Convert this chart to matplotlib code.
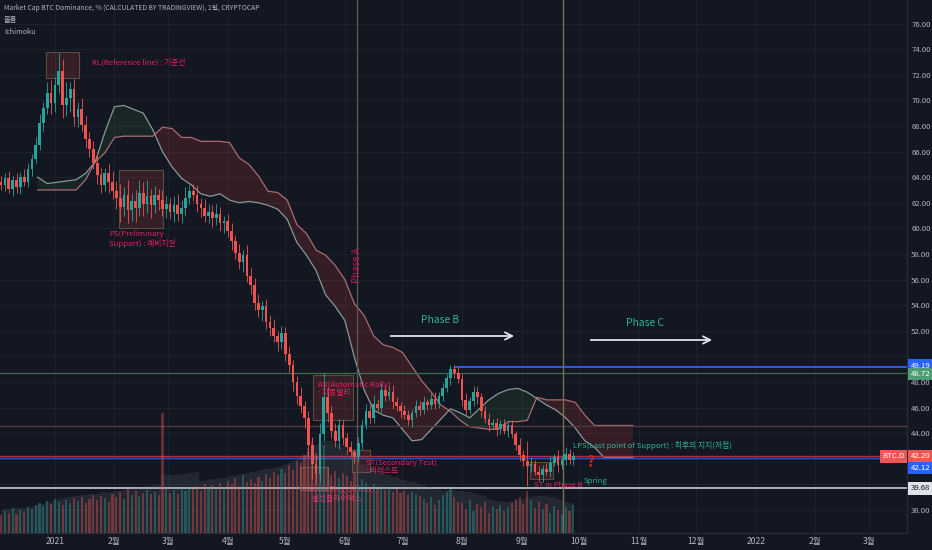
import matplotlib.pyplot as plt
import matplotlib.patches as mpatches
from matplotlib.transforms import blended_transform_factory
import numpy as np
import pandas as pd

plt.rcParams['font.family'] = ['Noto Sans CJK KR', 'DejaVu Sans']

BG = '#131722'
UP = '#26a69a'
DN = '#ef5350'
TXT = '#b2b5be'
PINK = '#e91e63'
TEAL = '#2bb597'
NOTE = 5.6

# 2-day candles, day 0 = 2021-01-01
first_day = -28
step = 2
first_open = 63.6
close = [63.4, 63.9, 63.1, 63.8, 63.2, 64.0, 63.6, 64.6, 65.4, 66.5,
         68.2, 69.4, 70.6, 69.8, 71.2, 72.3, 69.6, 70.2, 70.9, 68.7,
         69.3, 68.1, 67.0, 66.2, 65.1, 64.2, 63.4, 64.3, 63.6, 62.9,
         62.4, 61.7, 62.6, 61.4, 62.1, 61.6, 62.8, 61.9, 62.5, 61.8,
         62.6, 62.2, 61.5, 61.9, 61.3, 61.8, 61.1, 61.6, 62.4, 62.9,
         62.6, 61.9, 61.6, 61.0, 61.3, 60.8, 61.1, 60.4, 60.6, 59.8,
         59.0, 58.1, 57.4, 57.9, 56.3, 55.6, 54.2, 53.6, 53.9, 52.7,
         52.2, 51.6, 51.1, 51.8, 50.2, 49.3, 48.0, 46.9, 46.1, 45.2,
         43.1, 41.6, 40.8, 43.9, 46.8, 45.6, 44.2, 43.4, 44.6, 43.6,
         42.9, 42.5, 42.1, 43.2, 44.6, 45.7, 45.2, 46.3, 46.0, 47.4,
         46.9, 47.2, 46.4, 46.1, 45.7, 45.4, 45.0, 45.6, 46.1, 45.8,
         46.4, 46.2, 46.7, 46.3, 46.9, 47.5, 48.3, 49.0, 48.7, 48.2,
         46.6, 45.8, 46.5, 47.2, 46.8, 45.7, 45.1, 44.6, 44.8, 44.3,
         44.7, 44.2, 44.6, 43.9, 43.1, 42.3, 41.8, 41.4, 41.6, 41.0,
         40.7, 41.2, 41.0, 41.7, 42.1, 41.5, 41.9, 42.4, 41.9, 42.2]
wick_up = [0.5, 0.4, 0.6, 0.3, 0.5, 0.4, 0.6, 0.5, 0.4, 0.6,
           0.7, 0.5, 0.8, 1.0, 0.6, 1.4, 0.9, 1.2, 0.5, 0.8,
           0.6, 0.9, 0.7, 0.5, 0.6, 0.8, 0.5, 0.4, 0.7, 0.9,
           0.8, 1.1, 0.6, 1.2, 0.7, 0.9, 1.0, 0.8, 1.3, 0.6,
           0.7, 0.5, 0.8, 0.6, 0.5, 0.7, 0.9, 0.6, 0.8, 0.5,
           0.6, 0.8, 0.5, 0.7, 0.6, 0.5, 0.8, 0.6, 0.4, 0.5,
           0.6, 0.5, 0.7, 0.4, 0.8, 0.6, 0.5, 0.7, 0.4, 0.6,
           0.5, 0.7, 0.4, 0.6, 0.5, 0.6, 0.4, 0.5, 0.7, 0.4,
           0.5, 0.6, 0.7, 0.9, 1.9, 0.8, 0.5, 0.6, 0.5, 0.4,
           0.4, 0.5, 0.3, 0.5, 0.4, 0.6, 0.5, 0.7, 0.4, 0.5,
           0.4, 0.5, 0.6, 0.4, 0.3, 0.5, 0.4, 0.3, 0.5, 0.4,
           0.5, 0.3, 0.4, 0.5, 0.3, 0.4, 0.3, 0.3, 0.3, 0.5,
           0.4, 0.5, 0.3, 0.5, 0.4, 0.3, 0.4, 0.5, 0.3, 0.4,
           0.3, 0.4, 0.3, 0.4, 0.3, 0.5, 0.4, 1.6, 0.5, 0.3,
           0.4, 0.3, 0.5, 0.4, 0.3, 0.6, 0.4, 0.5, 0.4, 0.3]
wick_dn = [0.4, 0.5, 0.3, 0.6, 0.4, 0.5, 0.3, 0.4, 0.5, 0.3,
           0.4, 0.6, 0.5, 0.9, 0.7, 0.6, 1.0, 0.8, 1.1, 0.7,
           0.8, 0.5, 0.7, 0.6, 0.5, 0.7, 0.6, 0.5, 0.8, 0.6,
           0.9, 1.2, 0.7, 1.0, 0.8, 1.1, 0.6, 0.9, 0.7, 1.0,
           0.6, 0.8, 0.5, 0.7, 0.6, 0.8, 0.5, 0.7, 0.6, 0.5,
           0.5, 0.6, 0.7, 0.5, 0.6, 0.7, 0.5, 0.6, 0.8, 0.5,
           0.7, 0.5, 0.6, 0.8, 0.5, 0.7, 0.6, 0.5, 0.8, 0.6,
           0.6, 0.5, 0.7, 0.5, 0.6, 0.5, 0.7, 0.6, 0.5, 0.8,
           0.9, 1.2, 0.8, 0.6, 0.5, 0.7, 0.6, 0.5, 0.6, 0.5,
           0.5, 0.4, 0.5, 0.3, 0.4, 0.3, 0.5, 0.4, 0.3, 0.4,
           0.4, 0.3, 0.5, 0.4, 0.5, 0.3, 0.4, 0.5, 0.3, 0.4,
           0.3, 0.4, 0.3, 0.4, 0.3, 0.4, 0.3, 0.5, 0.4, 0.3,
           0.5, 0.4, 0.3, 0.4, 0.5, 0.4, 0.3, 0.4, 0.3, 0.5,
           0.4, 0.3, 0.5, 0.3, 0.4, 0.5, 0.4, 1.5, 0.4, 0.3,
           0.4, 0.5, 0.3, 0.4, 0.3, 0.5, 0.3, 0.4, 0.3, 0.4]
volume = [18, 22, 20, 25, 19, 23, 21, 26, 24, 28,
          30, 27, 32, 29, 34, 31, 28, 33, 30, 35,
          32, 36, 30, 34, 38, 33, 37, 35, 31, 39,
          36, 41, 34, 44, 38, 42, 37, 40, 43, 39,
          41, 38, 120, 44, 40, 43, 39, 45, 42, 46,
          44, 47, 42, 49, 45, 48, 43, 50, 46, 52,
          49, 55, 47, 58, 51, 54, 50, 56, 52, 59,
          55, 61, 58, 64, 60, 68, 63, 72, 70, 78,
          85, 92, 80, 74, 88, 66, 58, 62, 55, 60,
          57, 52, 60, 48, 54, 50, 45, 49, 44, 47,
          43, 46, 41, 44, 40, 42, 38, 41, 39, 37,
          34, 30, 36, 28, 33, 38, 41, 44, 36, 31,
          30, 24, 33, 22, 29, 26, 31, 20, 27, 24,
          28, 22, 26, 30, 34, 36, 29, 42, 33, 25,
          31, 24, 29, 20, 27, 23, 19, 26, 22, 28]

# Ichimoku cloud (leading spans, shifted forward)
cloud_days = list(range(-9, 302, 5))
span_a = [64.0, 63.5, 63.6, 63.7, 63.8, 64.3, 65.2, 67.5, 69.5, 69.6,
          69.3, 69.0, 67.7, 66.0, 64.8, 63.9, 63.4, 62.7, 62.5, 62.7,
          62.2, 62.0, 62.1, 62.0, 61.8, 61.5, 60.7, 58.9, 57.9, 56.7,
          54.8, 53.9, 52.8, 49.9, 47.4, 45.8, 45.4, 45.2, 44.3, 43.4,
          43.5, 44.3, 45.1, 45.9, 45.6, 45.2, 45.9, 46.6, 47.1, 47.4,
          47.5, 47.2, 46.7, 46.2, 45.8, 45.2, 44.4, 43.4, 42.9, 42.1,
          42.1, 42.1, 42.1]
span_b = [63.0, 63.0, 63.0, 63.0, 63.0, 63.8, 65.2, 65.9, 67.1, 67.2,
          67.2, 67.2, 67.2, 67.9, 67.8, 67.1, 67.1, 66.8, 66.8, 66.8,
          66.7, 65.5, 65.0, 64.1, 62.9, 62.8, 62.2, 60.3, 59.6, 58.3,
          57.9, 57.1, 56.0, 54.1, 53.2, 51.6, 50.9, 50.7, 50.3, 49.2,
          48.1, 47.2, 46.2, 45.7, 45.0, 44.5, 44.4, 44.3, 44.3, 44.9,
          44.9, 45.0, 46.8, 46.6, 46.6, 46.6, 46.4, 45.4, 44.6, 44.6,
          44.6, 44.6, 44.6]

month_days = [0, 31, 59, 90, 120, 151, 181, 212, 243, 273, 304, 334, 365, 396, 424]
month_labels = ['2021', '2월', '3월', '4월', '5월', '6월', '7월', '8월', '9월',
                '10월', '11월', '12월', '2022', '2월', '3월']
price_ticks = list(range(38, 77, 2))
hidden_ticks = [40, 42, 50]   # covered by the price tags

lvl_top = 49.19
lvl_green = 48.72
lvl_mid = 44.56
lvl_last = 42.20
lvl_blue = 42.12
lvl_low = 39.68
phase_a_day = 157.3
now_day = 264.6
top_start_day = 208

close = np.array(close)
days = first_day + step * np.arange(len(close))
opens = np.r_[first_open, close[:-1]]
highs = np.maximum(opens, close) + np.array(wick_up)
lows = np.minimum(opens, close) - np.array(wick_dn)
cols = np.where(close >= opens, UP, DN)

fig = plt.figure(figsize=(9.32, 5.5), dpi=100, facecolor=BG)
ax = fig.add_axes([0, 17 / 550, 907 / 932, 533 / 550])
ax.set_facecolor(BG)
ax.set_xlim(-28.6, 443.75)
ax.set_ylim(36.2, 77.84)

# volume pane (drawn over the price pane, like the original)
axv = ax.twinx()
axv.set_ylim(0, 533)
axv.axis('off')
vol_ma = pd.Series(volume).rolling(10, min_periods=1).mean()
axv.fill_between(days, 0, vol_ma * 1.2, step='mid', color='#787b86', alpha=0.16, lw=0)
axv.bar(days, volume, width=1.1, color=cols, alpha=0.38, lw=0)

# axes / grid
ax.set_xticks(month_days)
ax.set_xticklabels(month_labels)
ax.set_yticks(price_ticks)
ax.set_yticklabels(['' if v in hidden_ticks else f'{v:.2f}' for v in price_ticks])
ax.yaxis.tick_right()
ax.tick_params(axis='both', length=0, colors=TXT)
ax.tick_params(axis='y', pad=3, labelsize=5.6)
ax.tick_params(axis='x', pad=3, labelsize=6.2)
ax.grid(True, color='#1d212c', lw=0.8)
ax.set_axisbelow(True)
for s in ['top', 'left']:
    ax.spines[s].set_visible(False)
for s in ['right', 'bottom']:
    ax.spines[s].set_color('#2a2e39')

# cloud
ca = np.array(span_a)
cb = np.array(span_b)
ax.fill_between(cloud_days, ca, cb, where=ca >= cb, interpolate=True,
                color='#43a047', alpha=0.12, lw=0, zorder=1)
ax.fill_between(cloud_days, ca, cb, where=ca < cb, interpolate=True,
                color='#f44336', alpha=0.15, lw=0, zorder=1)
ax.plot(cloud_days, span_a, color='#9aaeae', lw=0.9, alpha=0.85, zorder=2)
ax.plot(cloud_days, span_b, color='#c27a80', lw=0.9, alpha=0.85, zorder=2)

# levels
ax.axhline(lvl_green, color='#3f6e48', lw=0.9, zorder=2)
ax.axhline(lvl_mid, color='#4d3a42', lw=1.0, zorder=2)
ax.axhline(lvl_last + 0.05, color='#b03050', lw=1.0, zorder=2)
ax.axhline(lvl_blue - 0.05, color='#2b4fc9', lw=1.0, zorder=2)
ax.axhline(lvl_low, color='#c8cbd2', lw=1.2, zorder=2)
ax.hlines(lvl_top, top_start_day, 443.75, color='#2962ff', lw=1.3, zorder=2)
ax.axvline(phase_a_day, color='#5e5a4c', lw=0.9, zorder=2)
ax.axvline(now_day, color='#78714f', lw=1.0, zorder=2)

# rectangles (annotations)
boxes = [(-4.7, 71.75, 17.2, 2.03), (33.3, 60.03, 23.0, 4.53),
         (134.4, 45.03, 20.8, 3.52), (154.7, 40.97, 9.4, 1.72),
         (127.6, 39.56, 14.6, 1.80), (247.4, 40.42, 12.0, 1.33)]
for bx, by, bw, bh in boxes:
    ax.add_patch(mpatches.Rectangle((bx, by), bw, bh, facecolor=(0.62, 0.22, 0.22, 0.25),
                                    edgecolor='#5a4d3e', lw=0.8, zorder=2.5))

# candles
ax.vlines(days, lows, highs, colors=cols, lw=0.6, zorder=3)
ax.bar(days, np.maximum(np.abs(close - opens), 0.06), bottom=np.minimum(opens, close),
       width=1.4, color=cols, lw=0, zorder=4)

# text annotations
ax.text(19.3, 73.0, 'RL(Reference line) : 기준선', color=PINK, fontsize=NOTE,
        fontweight='medium', va='center', zorder=5)
ax.text(28.1, 59.85, 'PS(Preliminary\nSupport) : 예비지원', color=PINK, fontsize=NOTE,
        fontweight='medium', va='top', linespacing=1.1, zorder=5)
ax.text(137.0, 48.1, 'AR(Automatic Rally)\n: 자동랠리', color=PINK, fontsize=NOTE,
        fontweight='medium', va='top', linespacing=1.1, zorder=5)
ax.text(162.0, 42.0, 'ST(Secondary Test)\n: 리테스트', color=PINK, fontsize=NOTE,
        fontweight='medium', va='top', linespacing=1.1, zorder=5)
ax.text(131.8, 39.85, 'SC(Selling Climax)\n: 셀링클라이맥스', color=PINK, fontsize=NOTE,
        fontweight='medium', va='top', linespacing=1.1, zorder=0.5)
ax.text(249.5, 39.95, 'ST in Phase B', color=PINK, fontsize=NOTE, fontweight='medium',
        va='center', zorder=5)
ax.text(275.5, 40.3, 'Spring', color=TEAL, fontsize=NOTE, fontweight='medium',
        va='center', zorder=5)
ax.text(277.0, 41.75, '?', color='#c62828', fontsize=11, fontweight='bold', va='center', zorder=5)
ax.text(269.8, 43.0, 'LPS(Last point of Support) : 최후의 지지(저점)', color=TEAL,
        fontsize=NOTE, fontweight='medium', va='center', zorder=5)
ax.text(phase_a_day, 57.1, 'Phase A', color='#c2185b', fontsize=7, rotation=90,
        ha='center', va='center', zorder=5)
ax.text(200.5, 52.84, 'Phase B', color=TEAL, fontsize=7.4, ha='center', va='center', zorder=5)
ax.text(307.3, 52.6, 'Phase C', color=TEAL, fontsize=7.4, ha='center', va='center', zorder=5)
ax.annotate('', xy=(240.6, 51.59), xytext=(173.4, 51.59),
            arrowprops=dict(arrowstyle='->', color='#e0e3eb', lw=1.3, mutation_scale=13), zorder=5)
ax.annotate('', xy=(343.75, 51.28), xytext=(277.6, 51.28),
            arrowprops=dict(arrowstyle='->', color='#e0e3eb', lw=1.3, mutation_scale=13), zorder=5)

# price labels on the axis
tr = blended_transform_factory(ax.transAxes, ax.transData)
def price_tag(y, label, fc, tc='white', x=1.004, ha='left'):
    ax.text(x, y, label, transform=tr, ha=ha, va='center', fontsize=5.6, color=tc,
            bbox=dict(boxstyle='square,pad=0.3', fc=fc, ec='none'), clip_on=False, zorder=10)

price_tag(lvl_top + 0.08, f'{lvl_top:.2f}', '#2962ff')
price_tag(lvl_green - 0.1, f'{lvl_green:.2f}', '#4d9c73')
price_tag(lvl_last, f'{lvl_last:.2f}', '#f05656')
price_tag(lvl_blue - 0.85, f'{lvl_blue:.2f}', '#2962ff')
price_tag(lvl_low, f'{lvl_low:.2f}', '#e0e3eb', tc='#131722')
price_tag(lvl_last, 'BTC.D', '#f05656', x=0.997, ha='right')

# header
fig.text(4 / 932, 1 - 8 / 550, 'Market Cap BTC Dominance, % (CALCULATED BY TRADINGVIEW), 1일, CRYPTOCAP',
         color=TXT, fontsize=4.9, va='center')
fig.text(4 / 932, 1 - 20 / 550, '볼륨', color=TXT, fontsize=5.2, va='center')
fig.text(4 / 932, 1 - 32 / 550, 'Ichimoku', color=TXT, fontsize=5.2, va='center')

fig.savefig('out.png', dpi=100, facecolor=BG)
